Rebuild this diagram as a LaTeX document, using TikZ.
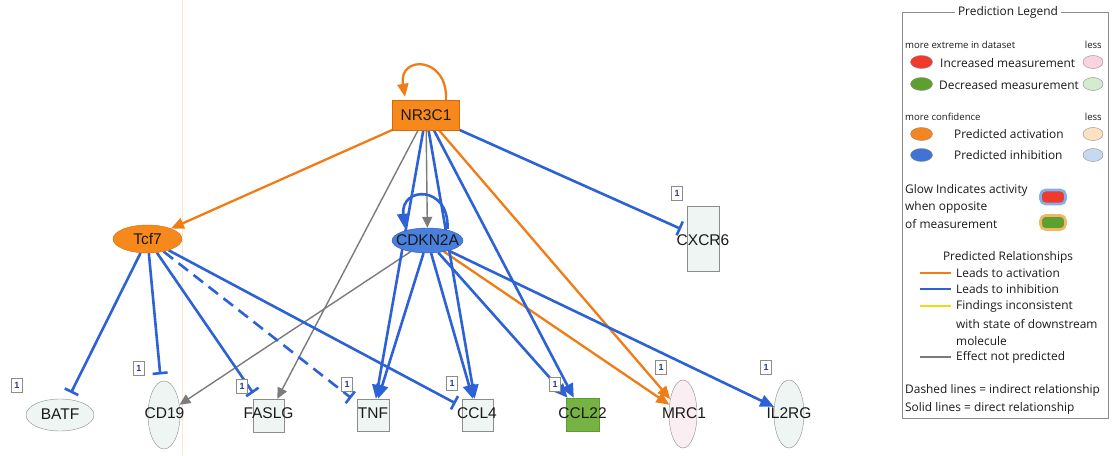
\documentclass[tikz,border=0pt]{standalone}
\usepackage{fontspec}
\setmainfont{Liberation Sans}
\newfontfamily\legfont{Open Sans}
\usetikzlibrary{shapes.geometric,arrows.meta,calc,positioning,backgrounds}
\definecolor{ink}{HTML}{1A1A1A}
\definecolor{orgf}{HTML}{F7891C}
\definecolor{orgd}{HTML}{D06A0A}
\definecolor{orge}{HTML}{F07C16}
\definecolor{bluf}{HTML}{4A80DD}
\definecolor{blud}{HTML}{2A55B0}
\definecolor{blue}{HTML}{2C62D6}
\definecolor{greye}{HTML}{7B7B7B}
\definecolor{pale}{HTML}{EEF5F3}
\definecolor{paled}{HTML}{8C8C8C}
\definecolor{pinkf}{HTML}{FAEEF3}
\definecolor{grnf}{HTML}{76B244}
\definecolor{grnd}{HTML}{5E9A35}
\definecolor{numc}{HTML}{2B3A8C}
\definecolor{faintc}{HTML}{F3EBCB}
\definecolor{redm}{HTML}{F03A2E}
\definecolor{pinkm}{HTML}{F9D3DE}
\definecolor{grnm}{HTML}{5DA02F}
\definecolor{lgrnm}{HTML}{D5EBD0}
\definecolor{orgm}{HTML}{F5861F}
\definecolor{lorgm}{HTML}{FCE2C2}
\definecolor{blum}{HTML}{3F73D6}
\definecolor{lblum}{HTML}{C7D8F3}
\definecolor{yelm}{HTML}{F5D90F}
\definecolor{glowb}{HTML}{7FB2EC}
\definecolor{glowo}{HTML}{F2B766}
\tikzset{
  gene/.style={font=\fontsize{15.5}{16}\selectfont,text=ink,inner sep=0pt},
  genebox/.style={rectangle,draw=paled,fill=pale,inner sep=0pt},
  geneov/.style={ellipse,draw=paled,fill=pale,inner sep=0pt},
  cnt/.style={rectangle,draw=paled,fill=white,inner sep=0pt,minimum width=11pt,minimum height=14pt,
    font=\fontsize{9}{9}\selectfont\bfseries,text=numc},
  act/.style={orge,line width=2.3pt,-{Triangle[length=13pt,width=11pt]}},
  blarr/.style={blue,line width=2.6pt,-{Triangle[length=14pt,width=12pt]}},
  inh/.style={blue,line width=2.6pt,shorten >=7pt,-{Bar[width=15pt]}},
  noeff/.style={greye,line width=1.4pt,-{Triangle[length=11pt,width=10pt]}},
  leg/.style={font=\legfont\fontsize{11.9}{12}\selectfont,text=ink,anchor=west,inner sep=0pt},
  legsm/.style={font=\legfont\fontsize{9.6}{10}\selectfont,text=ink,anchor=west,inner sep=0pt},
  dot/.style={ellipse,draw=paled,minimum width=22pt,minimum height=13pt,inner sep=0pt},
  glow/.style={rectangle,rounded corners=5pt,line width=2.6pt,minimum width=25pt,minimum height=14pt,inner sep=0pt},
}

\begin{document}
\begin{tikzpicture}[x=1pt,y=-1pt]
  \useasboundingbox (0,0) rectangle (1113,455);
  % ===================== regulators =====================
  \node[rectangle,draw=orgd,fill=orgf,minimum width=67pt,minimum height=30pt] (nr3c1) at (426,115) {};
  \node[ellipse,draw=orgd,fill=orgf,minimum width=69pt,minimum height=28pt] (tcf7) at (147.5,239) {};
  \node[ellipse,draw=blud,fill=bluf,minimum width=71pt,minimum height=25pt] (cdkn2a) at (427.5,240.5) {};
  \node[genebox,minimum width=32pt,minimum height=65pt] (cxcr6) at (703.5,239) {};
  % ===================== targets =====================
  \node[geneov,minimum width=68pt,minimum height=32pt] (batf) at (60,415) {};
  \node[geneov,minimum width=32pt,minimum height=68pt] (cd19) at (164,415) {};
  \node[genebox,minimum width=31pt,minimum height=33pt] (faslg) at (268.5,415.5) {};
  \node[genebox,minimum width=32pt,minimum height=32pt] (tnf) at (373,415) {};
  \node[genebox,minimum width=31pt,minimum height=32pt] (ccl4) at (477.5,415) {};
  \node[genebox,draw=grnd,fill=grnf,minimum width=33pt,minimum height=33pt] (ccl22) at (582.5,414.5) {};
  \node[geneov,fill=pinkf,minimum width=28pt,minimum height=68pt] (mrc1) at (683,414) {};
  \node[geneov,minimum width=30pt,minimum height=68pt] (il2rg) at (789,414) {};
  % labels
  \node[gene] (nr3c1t) at (nr3c1) {NR3C1};
  \node[gene] (tcf7t) at (tcf7) {Tcf7};
  \node[gene] (cdkn2at) at (cdkn2a) {CDKN2A};
  \node[gene] (cxcr6t) at (703,240) {CXCR6};
  \node[gene] (batft) at (60,414) {BATF};
  \node[gene] (cd19t) at (164.5,413) {CD19};
  \node[gene] (faslgt) at (268.5,413) {FASLG};
  \node[gene] (tnft) at (373,413) {TNF};
  \node[gene] (ccl4t) at (477,413) {CCL4};
  \node[gene] (ccl22t) at (582.5,413) {CCL22};
  \node[gene] (mrc1t) at (684,413) {MRC1};
  \node[gene] (il2rgt) at (789,413) {IL2RG};
  \foreach \x/\y [count=\k] in {17/385,139/368,242/386,347/384,452/383,555/384,661/367,766/367,677/193}
    \node[cnt] (one\k) at (\x,\y) {1};
  % ===================== relationships =====================
  \begin{scope}[on background layer]
    \draw[faintc,line width=0.9pt] (182,0) -- (182,455);
    \draw[act] ($(nr3c1.north)+(20,0)$) .. controls +(2,-44) and +(-7,-42) .. ($(nr3c1.north)+(-21,-3)$);
    \draw[act] (nr3c1) -- (tcf7);
    \draw[act] (nr3c1) -- (mrc1);
    \draw[act] (cdkn2a) -- (mrc1);
    \draw[noeff] (nr3c1) -- (faslg);
    \draw[noeff] (nr3c1) -- (cdkn2a);
    \draw[noeff] (cdkn2a) -- (cd19);
    \draw[blarr] (nr3c1) -- (tnf);
    \draw[blarr] (nr3c1) -- (ccl4);
    \draw[blarr] (nr3c1) -- (ccl22);
    \draw[blarr] (cdkn2a) -- (tnf);
    \draw[blarr] (cdkn2a) -- (ccl4);
    \draw[blarr] (cdkn2a) -- (ccl22);
    \draw[blarr] (cdkn2a) -- (il2rg);
    \draw[blarr] ($(cdkn2a.north)+(20,1)$) .. controls +(2,-44) and +(-4,-42) .. ($(cdkn2a.north)+(-23,0)$);
    \draw[inh] (nr3c1) -- (cxcr6);
    \draw[inh] (tcf7) -- (batf);
    \draw[inh] (tcf7) -- (cd19);
    \draw[inh] (tcf7) -- (faslg);
    \draw[inh,dash pattern=on 12pt off 7pt] (tcf7) -- (tnf);
    \draw[inh] (tcf7) -- (ccl4);
  \end{scope}
  % ===================== legend =====================
  \draw[paled,line width=0.7pt] (902,12) rectangle (1108,418);
  \node[leg,anchor=center,fill=white,inner xsep=3pt,inner ysep=2pt] (lgtitle) at (1008,12) {Prediction Legend};
  \node[legsm] (lgext) at (905,45) {more extreme in dataset};
  \node[legsm,anchor=east] (lgless1) at (1102,45) {less};
  \node[dot,fill=redm] (lgred) at (921.5,62) {};
  \node[leg] (lginc) at (940,63) {Increased measurement};
  \node[dot,fill=pinkm,minimum width=20pt] (lgpink) at (1093,62) {};
  \node[dot,fill=grnm] (lggrn) at (921.5,84) {};
  \node[leg] (lgdec) at (939,85) {Decreased measurement};
  \node[dot,fill=lgrnm,minimum width=20pt] (lglgrn) at (1093,84) {};
  \node[legsm] (lgconf) at (905,117) {more confidence};
  \node[legsm,anchor=east] (lgless2) at (1102,117) {less};
  \node[dot,fill=orgm] (lgorg) at (921.5,134) {};
  \node[leg] (lgpa) at (954,134) {Predicted activation};
  \node[dot,fill=lorgm,minimum width=20pt] (lglorg) at (1093,134) {};
  \node[dot,fill=blum] (lgblu) at (921.5,155) {};
  \node[leg] (lgpi) at (954,155) {Predicted inhibition};
  \node[dot,fill=lblum,minimum width=20pt] (lglblu) at (1093,155) {};
  \node[leg] (lgglow1) at (905,190) {Glow Indicates activity};
  \node[leg] (lgglow2) at (905,207) {when opposite};
  \node[leg] (lgglow3) at (905,224) {of measurement};
  \node[glow,draw=glowb,fill=redm] (lgglowr) at (1053,197) {};
  \node[glow,draw=glowo,fill=grnm] (lgglowg) at (1053,222.5) {};
  \node[leg,anchor=center] (lgrel) at (1008,257) {Predicted Relationships};
  \draw[orge,line width=1.6pt] (920,273) -- (951,273);
  \draw[blue,line width=1.6pt] (920,289) -- (951,289);
  \draw[yelm,line width=1.6pt] (920,306) -- (951,306);
  \draw[greye,line width=1.6pt] (920,357) -- (951,357);
  \node[leg] (lgla) at (956,273) {Leads to activation};
  \node[leg] (lgli) at (956,289) {Leads to inhibition};
  \node[leg] (lgfi1) at (956,306) {Findings inconsistent};
  \node[leg] (lgfi2) at (956,324) {with state of downstream};
  \node[leg] (lgfi3) at (956,341) {molecule};
  \node[leg] (lgen) at (956,357) {Effect not predicted};
  \node[leg] (lgdash) at (905,390) {Dashed lines = indirect relationship};
  \node[leg] (lgsolid) at (905,408) {Solid lines = direct relationship};
\end{tikzpicture}
\end{document}
